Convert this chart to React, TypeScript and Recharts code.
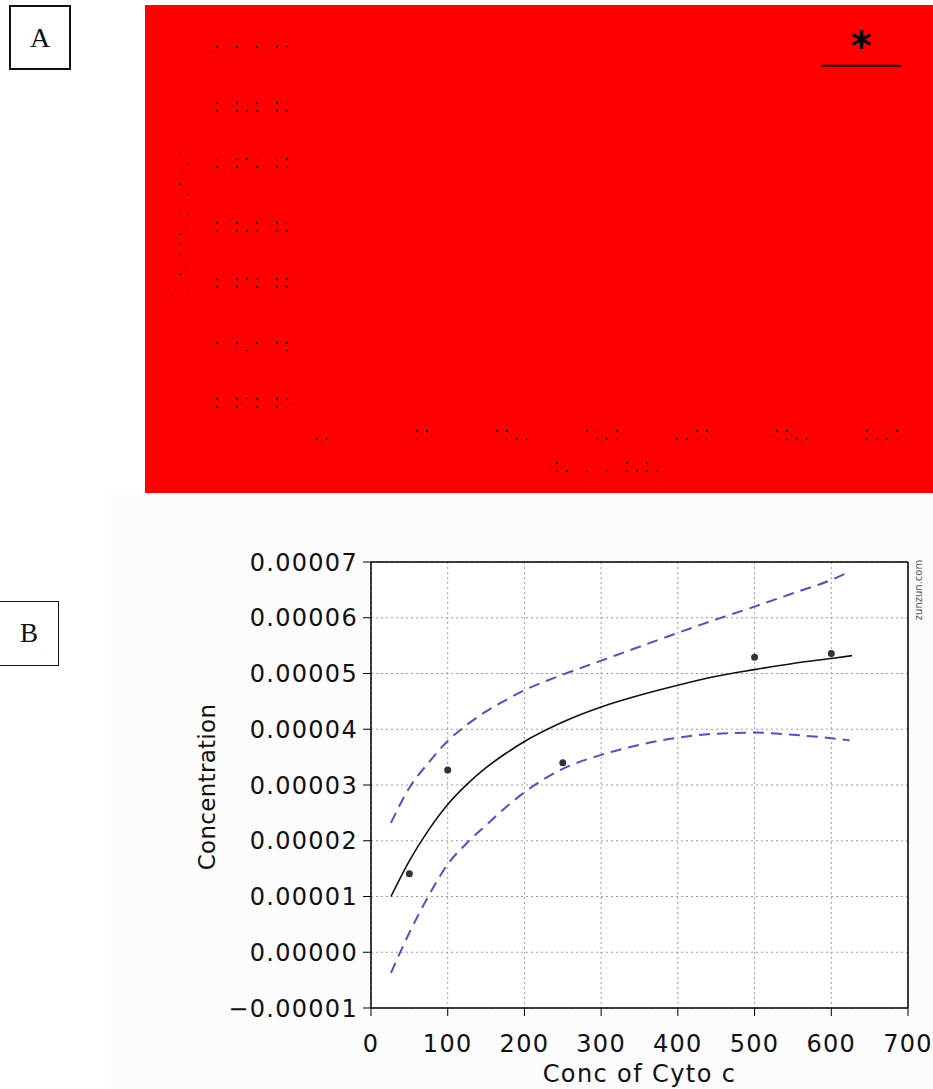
import React from 'react';
import {
  ComposedChart,
  Line,
  Scatter,
  XAxis,
  YAxis,
  CartesianGrid,
  ReferenceDot,
  Label,
} from 'recharts';

// ---- panel A (red, garbled) ----
const aXTicks = [0, 100, 200, 300, 400, 500, 600];
const aYTicks = [0, 0.00001, 0.00002, 0.00003, 0.00004, 0.00005, 0.00006];
const aYTickLabels = ['0.00000', '0.00001', '0.00002', '0.00003', '0.00004', '0.00005', '0.00006'];
const bracketX = [535, 621];
const bracketY = [0.0000568, 0.0000568];
const starX = 578;
const starY = 0.0000568;

// ---- panel B ----
const xTicks = [0, 100, 200, 300, 400, 500, 600, 700];
const yTicks = [-0.00001, 0, 0.00001, 0.00002, 0.00003, 0.00004, 0.00005, 0.00006, 0.00007];
const yTickLabels = [
  '\u22120.00001',
  '0.00000',
  '0.00001',
  '0.00002',
  '0.00003',
  '0.00004',
  '0.00005',
  '0.00006',
  '0.00007',
];

const cytoConc = [50, 100, 250, 500, 600];
const measured = [0.0000141, 0.0000327, 0.000034, 0.0000529, 0.0000536];

const fitX = [26, 50, 75, 100, 125, 150, 175, 200, 250, 300, 350, 400, 450, 500, 550, 600, 627];
const fitY = [
  0.00001, 0.0000164, 0.0000219, 0.0000265, 0.0000301, 0.0000331, 0.0000356, 0.0000378,
  0.0000413, 0.000044, 0.0000461, 0.0000479, 0.0000495, 0.0000507, 0.0000518, 0.0000527,
  0.0000532,
];

const bandX = [26, 50, 75, 100, 125, 150, 175, 200, 250, 300, 350, 400, 450, 500, 550, 600, 624];
const upperBand = [
  0.0000232, 0.0000295, 0.000034, 0.0000379, 0.0000408, 0.0000432, 0.0000452, 0.000047,
  0.0000498, 0.0000523, 0.0000548, 0.0000573, 0.0000597, 0.000062, 0.0000644, 0.0000668,
  0.0000683,
];
const lowerBand = [
  -0.0000037, 0.0000035, 0.0000101, 0.0000158, 0.0000196, 0.0000228, 0.0000259, 0.0000287,
  0.0000329, 0.0000354, 0.0000372, 0.0000385, 0.0000392, 0.0000394, 0.000039, 0.0000384,
  0.000038,
];

const pointData = cytoConc.map((x, i) => ({ x, y: measured[i] }));
const fitData = fitX.map((x, i) => ({ x, y: fitY[i] }));
const upperData = bandX.map((x, i) => ({ x, y: upperBand[i] }));
const lowerData = bandX.map((x, i) => ({ x, y: lowerBand[i] }));
const bracketData = bracketX.map((x, i) => ({ x, y: bracketY[i] }));

const NOISE = 'url(#aNoise)';
const tickFont = { fontSize: 24, fill: '#111', fontFamily: 'DejaVu Sans', letterSpacing: 1.3 };

// tick labels of panel A drawn through a sparse dot pattern
const NoiseTick = (props: any) => {
  const { x, y, textAnchor, payload, index, labels } = props;
  const text = labels ? labels[index] : String(payload.value);
  return (
    <text x={x} y={y} textAnchor={textAnchor} dy={textAnchor === 'end' ? '0.355em' : '0.71em'}
      fontSize={19} fontWeight="bold" fontFamily="DejaVu Sans" fill={NOISE}>
      {text}
    </text>
  );
};

const PanelA = () => (
  <div style={{ position: 'absolute', left: 145, top: 5, width: 788, height: 488, background: '#ff0000' }}>
    <ComposedChart width={788} height={488} margin={{ top: 24, right: 28, bottom: 0, left: 0 }}>
      <defs>
        <pattern id="aNoise" width="10" height="8" patternUnits="userSpaceOnUse">
          <rect x="1" y="1" width="2" height="2" fill="#000" />
          <rect x="6" y="5" width="1" height="2" fill="#000" />
        </pattern>
      </defs>
      <XAxis
        type="number"
        dataKey="x"
        domain={[-25, 625]}
        ticks={aXTicks}
        axisLine={false}
        tickLine={false}
        tickSize={0}
        tickMargin={9}
        height={72}
        tick={<NoiseTick />}
      >
        <Label
          content={(props: any) => {
            const vb = props.viewBox;
            return (
              <text x={vb.x + vb.width / 2 + 10} y={vb.y + 52} textAnchor="middle" fontSize={16}
                fontWeight="bold" fontFamily="DejaVu Sans" fill={NOISE}>
                Conc of Cyto c
              </text>
            );
          }}
        />
      </XAxis>
      <YAxis
        type="number"
        domain={[-0.000003, 0.000063]}
        ticks={aYTicks}
        width={153}
        axisLine={false}
        tickLine={false}
        tickSize={0}
        tickMargin={5}
        tick={<NoiseTick labels={aYTickLabels} />}
      >
        <Label
          content={(props: any) => {
            const vb = props.viewBox;
            const cx = 43;
            const cy = vb.y + vb.height / 2 - 2;
            return (
              <text x={cx} y={cy} transform={`rotate(-90, ${cx}, ${cy})`} textAnchor="middle"
                fontSize={22} fontFamily="DejaVu Sans" fill={NOISE}>
                Concentration
              </text>
            );
          }}
        />
      </YAxis>
      <Line data={bracketData} dataKey="y" stroke="#000" strokeWidth={2} dot={false} isAnimationActive={false} />
      <ReferenceDot
        x={starX}
        y={starY}
        r={0}
        stroke="none"
        fill="none"
        label={{
          content: (props: any) => {
            const vb = props.viewBox;
            return (
              <text x={vb.x} y={vb.y - 6} textAnchor="middle" fontSize={40} fontWeight="bold"
                fontFamily="DejaVu Sans" fill="#000">
                *
              </text>
            );
          },
        }}
      />
    </ComposedChart>
  </div>
);

const PanelB = () => (
  <div style={{ position: 'absolute', left: 110, top: 493, width: 823, height: 596, background: '#fcfcfc' }}>
    <div style={{ position: 'absolute', left: 0, top: 12 }}>
      <ComposedChart width={823} height={584} margin={{ top: 0, right: 0, bottom: 0, left: 0 }}>
        <CartesianGrid stroke="#999" strokeDasharray="2 3" fill="#fff" />
        <XAxis
          type="number"
          dataKey="x"
          domain={[0, 700]}
          ticks={xTicks}
          height={81}
          tickSize={8}
          tickMargin={19}
          axisLine={{ stroke: '#000', strokeWidth: 1.5 }}
          tickLine={{ stroke: '#000' }}
          tick={tickFont}
        >
          <Label
            content={(props: any) => {
              const vb = props.viewBox;
              return (
                <text x={vb.x + vb.width / 2} y={vb.y + 74} textAnchor="middle" fontSize={24}
                  fontFamily="DejaVu Sans" fill="#111" letterSpacing={1.4}>
                  Conc of Cyto c
                </text>
              );
            }}
          />
        </XAxis>
        <XAxis
          xAxisId="top"
          orientation="top"
          type="number"
          dataKey="x"
          domain={[0, 700]}
          ticks={xTicks}
          height={57}
          tickSize={8}
          axisLine={{ stroke: '#000', strokeWidth: 1.5 }}
          tickLine={{ stroke: '#000' }}
          tickFormatter={() => ''}
        />
        <YAxis
          type="number"
          domain={[-0.00001, 0.00007]}
          ticks={yTicks}
          width={261}
          tickSize={8}
          tickMargin={5}
          axisLine={{ stroke: '#000', strokeWidth: 1.5 }}
          tickLine={{ stroke: '#000' }}
          tickFormatter={(_v: number, i: number) => yTickLabels[i]}
          tick={tickFont}
        >
          <Label
            content={(props: any) => {
              const vb = props.viewBox;
              const cx = 105;
              const cy = vb.y + vb.height / 2 + 2;
              return (
                <text x={cx} y={cy} transform={`rotate(-90, ${cx}, ${cy})`} textAnchor="middle"
                  fontSize={23} fontFamily="DejaVu Sans" fill="#111" letterSpacing={0.3}>
                  Concentration
                </text>
              );
            }}
          />
        </YAxis>
        <YAxis
          yAxisId="right"
          orientation="right"
          type="number"
          domain={[-0.00001, 0.00007]}
          ticks={yTicks}
          width={25}
          tickSize={8}
          axisLine={{ stroke: '#000', strokeWidth: 1.5 }}
          tickLine={{ stroke: '#000' }}
          tickFormatter={() => ''}
        >
          <Label
            content={(props: any) => {
              const vb = props.viewBox;
              const cx = vb.x + 14;
              const cy = vb.y + 28;
              return (
                <text x={cx} y={cy} transform={`rotate(-90, ${cx}, ${cy})`} textAnchor="middle"
                  fontSize={10} fontFamily="DejaVu Sans" fill="#555">
                  zunzun.com
                </text>
              );
            }}
          />
        </YAxis>
        <Line data={upperData} dataKey="y" type="monotone" stroke="#4f4fd6" strokeWidth={2}
          strokeDasharray="11 7" dot={false} isAnimationActive={false} />
        <Line data={lowerData} dataKey="y" type="monotone" stroke="#4f4fd6" strokeWidth={2}
          strokeDasharray="11 7" dot={false} isAnimationActive={false} />
        <Line data={fitData} dataKey="y" type="monotone" stroke="#111" strokeWidth={1.6}
          dot={false} isAnimationActive={false} />
        <Scatter
          data={pointData}
          dataKey="y"
          isAnimationActive={false}
          shape={(p: any) => <circle cx={p.cx} cy={p.cy} r={3.5} fill="#333" />}
        />
      </ComposedChart>
    </div>
  </div>
);

const boxText: React.CSSProperties = {
  position: 'absolute',
  boxSizing: 'border-box',
  display: 'flex',
  alignItems: 'center',
  justifyContent: 'center',
  fontFamily: '"Liberation Serif", serif',
  color: '#111',
  background: '#fff',
};

export default function App() {
  return (
    <div style={{ position: 'absolute', left: 0, top: 0, width: 933, height: 1089, background: '#fff', overflow: 'hidden' }}>
      <div style={{ ...boxText, left: 9, top: 5, width: 62, height: 65, border: '2px solid #111', fontSize: 28 }}>A</div>
      <PanelA />
      <PanelB />
      <div style={{ ...boxText, left: -1, top: 601, width: 60, height: 65, border: '1.5px solid #111', fontSize: 27 }}>B</div>
    </div>
  );
}
